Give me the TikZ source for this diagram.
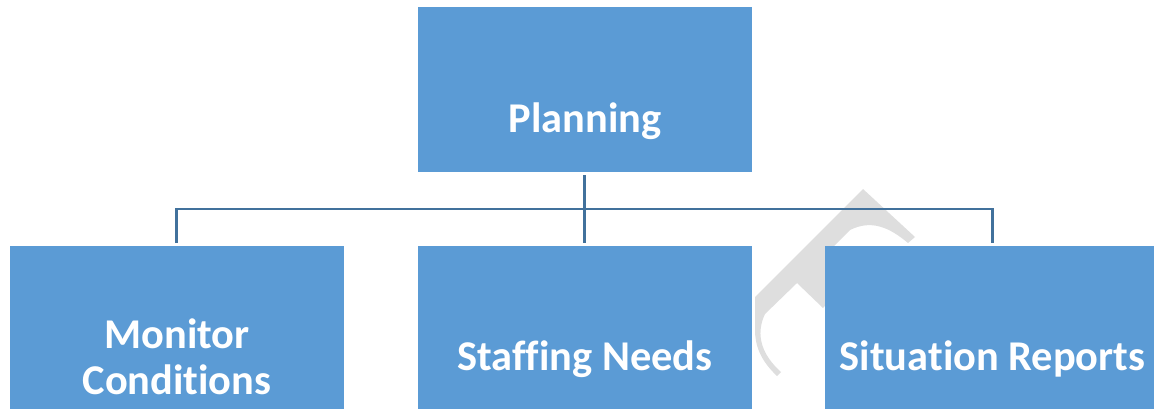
\documentclass[tikz,border=0pt]{standalone}
\usepackage{fontspec}
\setmainfont{Carlito}[Ligatures=NoCommon]
\begin{document}
\begin{tikzpicture}[x=0.5pt,y=-0.5pt,
  box/.style={draw=none,fill=boxblue,anchor=north west,inner sep=0pt,outer sep=0pt,
    minimum width=166.75pt,minimum height=82.5pt},
  lbl/.style={text=white,inner sep=0pt,anchor=base,font=\fontsize{21.2}{23}\selectfont\bfseries},
  conn/.style={draw=linkblue,line width=1.4pt},
  wmark/.style={fill=markgray,draw=none}]
\definecolor{boxblue}{HTML}{5B9BD5}
\definecolor{linkblue}{HTML}{41719C}
\definecolor{markgray}{HTML}{DEDEDE}
\useasboundingbox (0,0) rectangle (1154,408);
\clip (0,0) rectangle (1154,408);

% faint emblem behind the lower right boxes
\fill[wmark] (755,297) -- (863,189) -- (915,237) -- (908,243)
  .. controls (890,228) and (872,219) .. (850,230) -- (825,255) -- (840,290)
  -- (823,308) -- (797,283) -- (765,314)
  .. controls (755,335) and (762,355) .. (781,372) -- (777,376)
  .. controls (760,360) and (755,345) .. (755,330) -- cycle;

% boxes
\node[box] (plan) at (418,7) {};
\node[box] (mon) at (10,246) {};
\node[box] (staff) at (418,246) {};
\node[box,minimum width=167.5pt] (sit) at (825,246) {};

% labels
\node[lbl] (plan-t) at (585,132) {Planning};
\node[lbl] (mon-t1) at (177,348) {Monitor};
\node[lbl] (mon-t2) at (177,394) {Conditions};
\node[lbl] (staff-t) at (585,370) {Staffing Needs};
\node[lbl] (sit-t) at (992.5,370) {Situation Reports};

% connectors
\coordinate (bus) at (585,209);
\draw[conn,shorten <=1.5pt,shorten >=1.5pt] (plan.south) -- (staff.north);
\draw[conn,shorten <=1.5pt,shorten >=1.5pt] (mon.north) -- (mon.north |- bus)
  -- (sit.north |- bus) -- (sit.north);
\end{tikzpicture}
\end{document}
